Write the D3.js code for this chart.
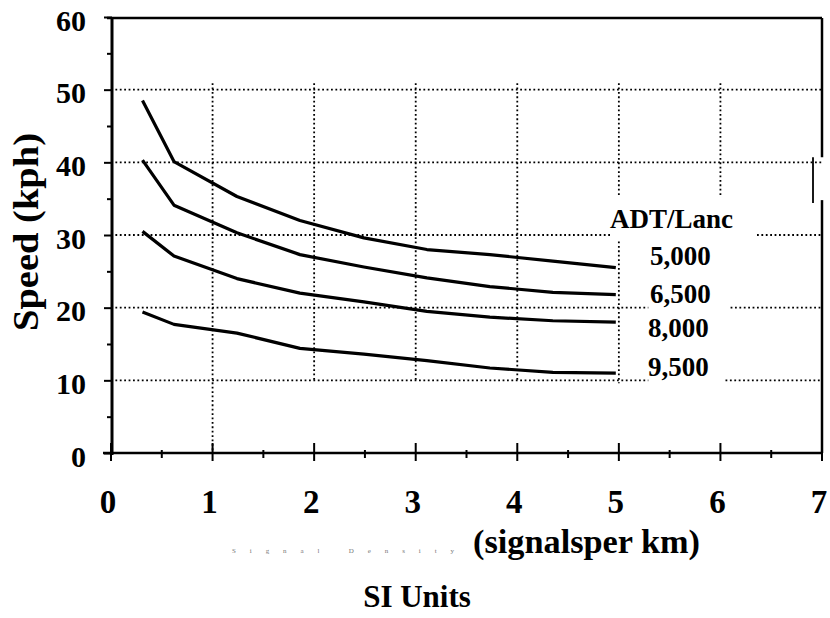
<!DOCTYPE html>
<html>
<head>
<meta charset="utf-8">
<script src="https://cdn.jsdelivr.net/npm/d3@7"></script>
<style>
  html, body { margin: 0; padding: 0; background: #fff; }
  svg { display: block; }
  text { font-family: "Liberation Serif", "Times New Roman", serif; font-weight: bold; fill: #000; }
</style>
</head>
<body>
<svg id="chart" width="830" height="618"></svg>
<script>
// ---- data ----
const signalDensity = [0.31, 0.62, 1.24, 1.86, 2.49, 3.11, 3.73, 4.35, 4.97];
const adtLabels = ["5,000", "6,500", "8,000", "9,500"];
const speed5000 = [48.5, 40.1, 35.3, 32.0, 29.6, 28.0, 27.3, 26.4, 25.5];
const speed6500 = [40.3, 34.1, 30.3, 27.3, 25.6, 24.1, 22.9, 22.1, 21.8];
const speed8000 = [30.5, 27.1, 24.0, 22.0, 20.8, 19.5, 18.7, 18.2, 18.0];
const speed9500 = [19.4, 17.7, 16.5, 14.4, 13.6, 12.7, 11.7, 11.1, 11.0];
const xTicks = [0, 1, 2, 3, 4, 5, 6, 7];
const yTicks = [0, 10, 20, 30, 40, 50, 60];
// dotted grid segments (value space) as they appear in the scanned original
const vGrid = [[1, 0, 50.9], [2, 10, 50.9], [3, 10, 50.9], [4, 10, 50.9], [5, 35.3, 50.9], [5, 9.6, 29.1], [6, 35.2, 50.9]];
const hGrid = [[50, 0, 7], [40, 0, 7], [30, 0, 4.92], [30, 6.36, 7], [20, 0, 5.29], [20, 6.1, 7], [10, 0, 5.29], [10, 6.05, 7]];

const series = [speed5000, speed6500, speed8000, speed9500];

// ---- layout ----
const svg = d3.select("#chart");
const x = d3.scaleLinear().domain([0, 7]).range([111, 822]);
const y = d3.scaleLinear().domain([0, 60]).range([453, 17]);

// grid
const grid = svg.append("g").attr("stroke", "#000").attr("stroke-width", 1.8)
  .attr("stroke-dasharray", "1.8,2.6").attr("fill", "none");
vGrid.forEach(([v, a, b]) => grid.append("line")
  .attr("x1", x(v)).attr("x2", x(v)).attr("y1", y(b)).attr("y2", y(a)));
hGrid.forEach(([v, a, b]) => grid.append("line")
  .attr("x1", x(a)).attr("x2", x(b)).attr("y1", y(v)).attr("y2", y(v)));

// frame
const frame = svg.append("g").attr("stroke", "#000").attr("fill", "none");
frame.append("line").attr("x1", x(0) - 4).attr("x2", x(7)).attr("y1", y(60) + 1).attr("y2", y(60) + 1).attr("stroke-width", 2.5);
frame.append("line").attr("x1", x(7)).attr("x2", x(7)).attr("y1", y(60) + 1).attr("y2", y(40.7)).attr("stroke-width", 2.5);
frame.append("line").attr("x1", x(7) - 9).attr("x2", x(7) - 9).attr("y1", y(40.7)).attr("y2", y(34.4)).attr("stroke-width", 1.8);
frame.append("line").attr("x1", x(7)).attr("x2", x(7)).attr("y1", y(34.8)).attr("y2", y(0)).attr("stroke-width", 2.5);

// y axis
const yAxis = svg.append("g").attr("transform", `translate(${x(0) + 1},0)`);
yAxis.call(d3.axisLeft(y).tickValues(yTicks).tickSize(8).tickFormat(""));
yAxis.select(".domain").remove();
yAxis.selectAll(".tick line").attr("stroke", "#000").attr("stroke-width", 2);
yAxis.append("line").attr("y1", y(60) + 1).attr("y2", y(0) + 2).attr("stroke", "#000").attr("stroke-width", 3);
const yMinor = svg.append("g").attr("transform", `translate(${x(0) + 1},0)`);
yMinor.call(d3.axisLeft(y).tickValues([5, 15, 25, 35, 45, 55]).tickSize(5).tickFormat(""));
yMinor.select(".domain").remove();
yMinor.selectAll(".tick line").attr("stroke", "#000").attr("stroke-width", 2);

svg.append("g").selectAll("text").data(yTicks).join("text")
  .attr("x", 86).attr("y", d => y(d) + 3).attr("dy", "0.35em")
  .attr("text-anchor", "end").attr("font-size", 30).text(d => d);

// x axis
const xAxis = svg.append("g").attr("transform", `translate(0,${y(0)})`);
xAxis.append("line").attr("x1", x(0) - 8).attr("x2", x(7)).attr("stroke", "#000").attr("stroke-width", 2.5);
xAxis.selectAll("line.major").data(xTicks).join("line").attr("class", "major")
  .attr("x1", d => x(d)).attr("x2", d => x(d)).attr("y1", -10).attr("y2", 8)
  .attr("stroke", "#000").attr("stroke-width", 2);
xAxis.selectAll("line.minor").data(d3.range(0.5, 7, 1)).join("line").attr("class", "minor")
  .attr("x1", d => x(d)).attr("x2", d => x(d)).attr("y1", -3).attr("y2", 5)
  .attr("stroke", "#000").attr("stroke-width", 2);

svg.append("g").selectAll("text").data(xTicks).join("text")
  .attr("x", d => x(d) - 3).attr("y", 513)
  .attr("text-anchor", "middle").attr("font-size", 33).text(d => d);

// curves
const line = d3.line().x((d, i) => x(signalDensity[i])).y(d => y(d));
svg.append("g").selectAll("path").data(series).join("path")
  .attr("d", d => line(d)).attr("fill", "none").attr("stroke", "#000")
  .attr("stroke-width", 3.2).attr("stroke-linejoin", "round").attr("stroke-linecap", "butt");

// labels
svg.append("text").attr("x", 610).attr("y", 228).attr("font-size", 27)
  .attr("textLength", 123).attr("lengthAdjust", "spacingAndGlyphs").text("ADT/Lanc");
const labelY = [265, 303, 337, 376];
svg.append("g").selectAll("text").data(adtLabels).join("text")
  .attr("x", (d, i) => i < 2 ? 650 : 648).attr("y", (d, i) => labelY[i])
  .attr("font-size", 27).text(d => d);

// axis titles
svg.append("text").attr("transform", "translate(38,232) rotate(-90)")
  .attr("text-anchor", "middle").attr("font-size", 35)
  .attr("textLength", 198).attr("lengthAdjust", "spacingAndGlyphs").text("Speed (kph)");

svg.append("text").attr("x", 232).attr("y", 553)
  .attr("font-size", 7)
  .attr("font-family", "Liberation Sans, Arial, sans-serif")
  .style("fill", "#777").style("font-weight", "normal")
  .attr("textLength", 222).attr("lengthAdjust", "spacing").text("Signal Density");

svg.append("text").attr("x", 473).attr("y", 553).attr("font-size", 33)
  .attr("textLength", 227).attr("lengthAdjust", "spacingAndGlyphs").text("(signalsper km)");

svg.append("text").attr("x", 417).attr("y", 607).attr("text-anchor", "middle")
  .attr("font-size", 31).text("SI Units");
</script>
</body>
</html>
